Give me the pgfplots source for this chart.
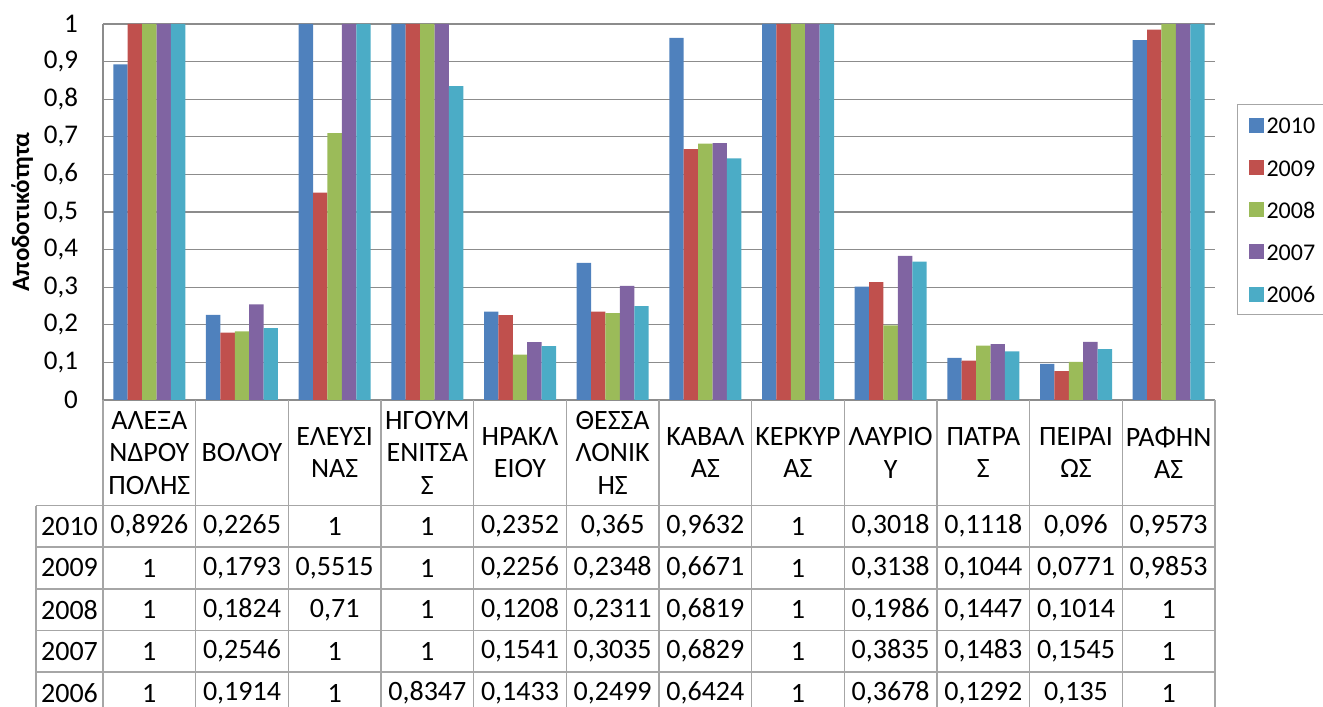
\documentclass[border=0pt]{standalone}
\usepackage{fontspec}
\setmainfont{Carlito}
\usepackage{pgfplots}
\pgfplotsset{compat=1.18}
\definecolor{cA}{HTML}{4F81BD}
\definecolor{cB}{HTML}{C0504D}
\definecolor{cC}{HTML}{9BBB59}
\definecolor{cD}{HTML}{8064A2}
\definecolor{cE}{HTML}{4BACC6}
\definecolor{gridc}{HTML}{8C8C8C}
\definecolor{tblc}{HTML}{A6A6A6}
\begin{document}
\begin{tikzpicture}
\useasboundingbox (-51.5pt,-153.5pt) rectangle (610pt,200pt);
\begin{axis}[
  scale only axis, width=556pt, height=188pt,
  xmin=-0.5, xmax=11.5, ymin=0, ymax=1,
  ybar=0pt, bar width=7.2pt,
  xtick=\empty,
  ytick={0,0.1,0.2,0.3,0.4,0.5,0.6,0.7,0.8,0.9,1},
  yticklabels={0,{0,1},{0,2},{0,3},{0,4},{0,5},{0,6},{0,7},{0,8},{0,9},1},
  yticklabel style={font=\fontsize{13.5}{15}\selectfont, xshift=-9pt},
  major tick length=0pt,
  ymajorgrids, grid style={draw=gridc, line width=0.6pt},
  axis lines*=left, axis line style={draw=gridc, line width=0.6pt, -},
  ylabel={Αποδοτικότητα},
  ylabel style={font=\bfseries\fontsize{12.5}{14}\selectfont, at={(axis description cs:-0.0728,0.5)}, anchor=center},
  legend style={at={(1.0198,0.7872)}, anchor=north west, draw=gray!70, line width=0.5pt,
    font=\fontsize{12}{14}\selectfont, inner xsep=5.5pt, inner ysep=4.5pt, row sep=9.4pt,
    nodes={inner sep=1.5pt, text height=8.7pt, text depth=0pt}},
  legend cell align=left,
  legend image code/.code={\fill[#1] (0pt,-3.75pt) rectangle (7.5pt,3.75pt);},
]
\addplot[fill=cA, draw=none] coordinates {(0,0.8926) (1,0.2265) (2,1) (3,1) (4,0.2352) (5,0.365) (6,0.9632) (7,1) (8,0.3018) (9,0.1118) (10,0.096) (11,0.9573)};
\addplot[fill=cB, draw=none] coordinates {(0,1) (1,0.1793) (2,0.5515) (3,1) (4,0.2256) (5,0.2348) (6,0.6671) (7,1) (8,0.3138) (9,0.1044) (10,0.0771) (11,0.9853)};
\addplot[fill=cC, draw=none] coordinates {(0,1) (1,0.1824) (2,0.71) (3,1) (4,0.1208) (5,0.2311) (6,0.6819) (7,1) (8,0.1986) (9,0.1447) (10,0.1014) (11,1)};
\addplot[fill=cD, draw=none] coordinates {(0,1) (1,0.2546) (2,1) (3,1) (4,0.1541) (5,0.3035) (6,0.6829) (7,1) (8,0.3835) (9,0.1483) (10,0.1545) (11,1)};
\addplot[fill=cE, draw=none] coordinates {(0,1) (1,0.1914) (2,1) (3,0.8347) (4,0.1433) (5,0.2499) (6,0.6424) (7,1) (8,0.3678) (9,0.1292) (10,0.135) (11,1)};
\legend{2010,2009,2008,2007,2006}
\end{axis}
% data table
\foreach \k in {0,...,12} \draw[tblc, line width=0.8pt] (\k*46.3333pt,0pt) -- (\k*46.3333pt,-160pt);
\draw[tblc, line width=0.8pt] (-33.5pt,-52.75pt) -- (-33.5pt,-160pt);
\foreach \yy in {-52.75,-73.5,-94.5,-115.25,-136} \draw[tblc, line width=0.8pt] (-33.5pt,\yy pt) -- (556pt,\yy pt);
\begin{scope}[every node/.style={font=\fontsize{14}{16.2}\selectfont, align=center, inner sep=0pt}]
\foreach \t [count=\i from 0] in {{ΑΛΕΞΑ\\ΝΔΡΟΥ\\ΠΟΛΗΣ},{ΒΟΛΟΥ},{ΕΛΕΥΣΙ\\ΝΑΣ},{ΗΓΟΥΜ\\ΕΝΙΤΣΑ\\Σ},{ΗΡΑΚΛ\\ΕΙΟΥ},{ΘΕΣΣΑ\\ΛΟΝΙΚ\\ΗΣ},{ΚΑΒΑΛ\\ΑΣ},{ΚΕΡΚΥΡ\\ΑΣ},{ΛΑΥΡΙΟ\\Υ},{ΠΑΤΡΑ\\Σ},{ΠΕΙΡΑΙ\\ΩΣ},{ΡΑΦΗΝ\\ΑΣ}}
  \node at ({(\i+0.5)*46.3333pt},-26.4pt) {\t};
\foreach \lab/\yy in {2010/-63.1,2009/-84,2008/-104.9,2007/-125.6,2006/-146.6}
  \node at (-16.75pt,\yy pt) {\lab};
\foreach \t [count=\i from 0] in {{0,8926},{0,2265},1,1,{0,2352},{0,365},{0,9632},1,{0,3018},{0,1118},{0,096},{0,9573}}
  \node at ({(\i+0.5)*46.3333pt},-63.1pt) {\t};
\foreach \t [count=\i from 0] in {1,{0,1793},{0,5515},1,{0,2256},{0,2348},{0,6671},1,{0,3138},{0,1044},{0,0771},{0,9853}}
  \node at ({(\i+0.5)*46.3333pt},-84pt) {\t};
\foreach \t [count=\i from 0] in {1,{0,1824},{0,71},1,{0,1208},{0,2311},{0,6819},1,{0,1986},{0,1447},{0,1014},1}
  \node at ({(\i+0.5)*46.3333pt},-104.9pt) {\t};
\foreach \t [count=\i from 0] in {1,{0,2546},1,1,{0,1541},{0,3035},{0,6829},1,{0,3835},{0,1483},{0,1545},1}
  \node at ({(\i+0.5)*46.3333pt},-125.6pt) {\t};
\foreach \t [count=\i from 0] in {1,{0,1914},1,{0,8347},{0,1433},{0,2499},{0,6424},1,{0,3678},{0,1292},{0,135},1}
  \node at ({(\i+0.5)*46.3333pt},-146.6pt) {\t};
\end{scope}
\end{tikzpicture}
\end{document}
